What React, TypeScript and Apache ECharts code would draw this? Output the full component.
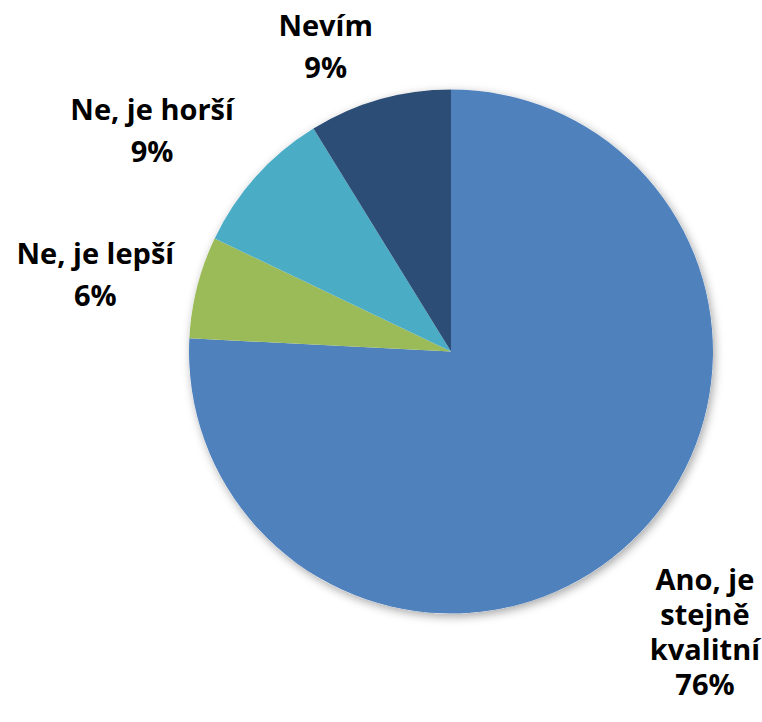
import React, { useEffect, useRef } from "react";
import * as echarts from "echarts";

const categories = ["Ano, je stejně kvalitní", "Ne, je lepší", "Ne, je horší", "Nevím"];
const values = [75.8, 6.3, 9.1, 8.8];
const labelTexts = ["Ano, je\nstejně\nkvalitní", "Ne, je lepší", "Ne, je horší", "Nevím"];
const colors = ["#4F81BD", "#9BBB59", "#4BACC6", "#2C4D75"];

const W = 762;
const H = 722;
const CX = 451;
const CY = 351.5;
const R = 262;
const GAP = 12;
const labelNudge = [
  [4, 17],
  [-6, 11],
  [-29, 21],
  [-36, 9],
];

export default function App() {
  const ref = useRef<HTMLDivElement>(null);
  useEffect(() => {
    if (!ref.current) return;
    const chart = echarts.init(ref.current, null, { renderer: "svg" });
    const total = values.reduce((a, b) => a + b, 0);
    const mids: number[] = [];
    let acc = 0;
    values.forEach((v) => {
      mids.push((acc + v / 2) / total);
      acc += v;
    });
    chart.setOption({
      animation: false,
      backgroundColor: "#ffffff",
      series: [
        {
          type: "pie",
          silent: true,
          center: [CX, CY],
          radius: R,
          z: 1,
          label: { show: false },
          labelLine: { show: false },
          itemStyle: {
            color: "#ffffff",
            shadowBlur: 10,
            shadowOffsetX: 2,
            shadowOffsetY: 3,
            shadowColor: "rgba(0,0,0,0.35)",
          },
          data: [{ value: 1, name: "" }],
        },
        {
          type: "pie",
          z: 2,
          center: [CX, CY],
          radius: R,
          startAngle: 90,
          clockwise: true,
          avoidLabelOverlap: false,
          percentPrecision: 0,
          labelLine: { show: false },
          emphasis: { disabled: true },
          label: {
            show: true,
            position: "outside",
            fontFamily: "Open Sans",
            fontWeight: "bold",
            fontSize: 29,
            color: "#000000",
            lineHeight: 42,
            formatter: (p: any) => labelTexts[p.dataIndex] + "\n" + p.percent + "%",
          },
          labelLayout: (params: any) => {
            const i = params.dataIndex;
            const th = mids[i] * Math.PI * 2;
            const dx = Math.sin(th);
            const dy = -Math.cos(th);
            const w = params.labelRect.width / 2;
            const h = params.labelRect.height / 2;
            const t = R + GAP + Math.abs(dx) * w + Math.abs(dy) * h;
            return {
              x: CX + dx * t + labelNudge[i][0],
              y: CY + dy * t + labelNudge[i][1],
              align: "center",
              verticalAlign: "middle",
            };
          },
          data: categories.map((name, i) => ({
            name,
            value: values[i],
            itemStyle: { color: colors[i] },
            label: i === 0 ? { lineHeight: 35 } : undefined,
          })),
        },
      ],
    });
    return () => chart.dispose();
  }, []);
  return (
    <div
      ref={ref}
      style={{ position: "fixed", left: 0, top: 0, width: W, height: H }}
    />
  );
}
